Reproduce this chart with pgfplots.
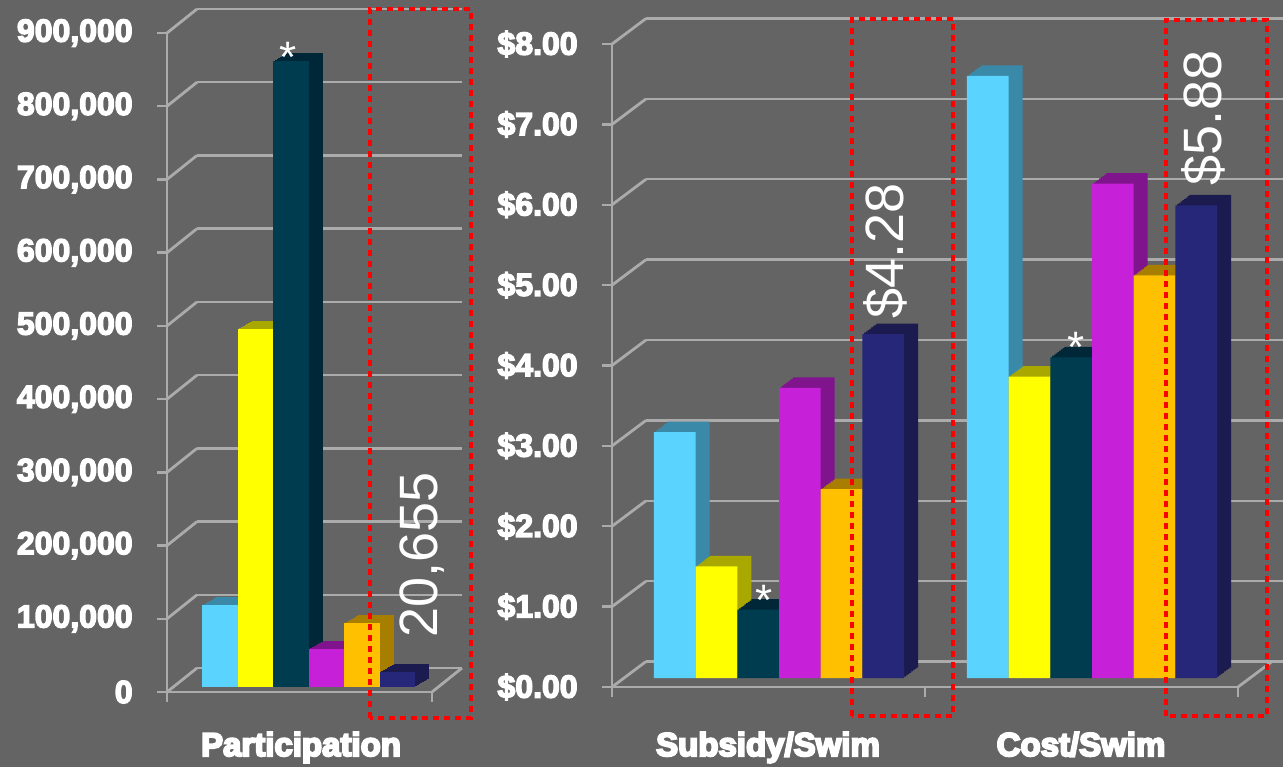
\documentclass[border=0pt]{standalone}
\usepackage{pgfplots}
\pgfplotsset{compat=1.18}
\usepackage{fontspec}
\setmainfont{Liberation Sans}
\newfontfamily\heavyfont{Liberation Sans Bold}
\definecolor{bg}{HTML}{646464}
\definecolor{gridc}{HTML}{ABABAB}
\definecolor{c1}{HTML}{5AD4FF}\definecolor{s1}{HTML}{3B89A8}
\definecolor{c2}{HTML}{FFFF00}\definecolor{s2}{HTML}{A8A800}
\definecolor{c3}{HTML}{003C50}\definecolor{s3}{HTML}{002738}
\definecolor{c4}{HTML}{C620D8}\definecolor{s4}{HTML}{80148C}
\definecolor{c5}{HTML}{FFC000}\definecolor{s5}{HTML}{A87E00}
\definecolor{c6}{HTML}{27277A}\definecolor{s6}{HTML}{1B1B50}
\tikzset{
  prism/.style n args={3}{
    preaction={fill=#1,draw=none,transform canvas={shift={(#2,#3)}}},
    preaction={fill=#1,draw=none,transform canvas={shift={(0.875*#2,0.875*#3)}}},
    preaction={fill=#1,draw=none,transform canvas={shift={(0.75*#2,0.75*#3)}}},
    preaction={fill=#1,draw=none,transform canvas={shift={(0.625*#2,0.625*#3)}}},
    preaction={fill=#1,draw=none,transform canvas={shift={(0.5*#2,0.5*#3)}}},
    preaction={fill=#1,draw=none,transform canvas={shift={(0.375*#2,0.375*#3)}}},
    preaction={fill=#1,draw=none,transform canvas={shift={(0.25*#2,0.25*#3)}}},
    preaction={fill=#1,draw=none,transform canvas={shift={(0.125*#2,0.125*#3)}}}
  },
  wall/.style={draw=gridc, line width=1.4pt},
  heavytext/.style={execute at begin node={\special{pdf:code 2 Tr #1 w}},
                    execute at end node={\special{pdf:code 0 Tr}}},
}
\pgfplotsset{
  barax/.style={hide axis, scale only axis, enlargelimits=false, clip=false, ybar=0pt, anchor=south west},
  backax/.style={scale only axis, enlargelimits=false, anchor=south west, axis line style={draw=none},
    xtick=\empty, yticklabels={}, scaled y ticks=false, yticklabel style={text opacity=0},
    tick style={draw=none}, ymajorgrids, major grid style={draw=gridc, line width=1.2pt}},
  frontax/.style={scale only axis, enlargelimits=false, clip=false, anchor=south west, scaled y ticks=false,
    axis x line*=bottom, axis y line*=left, axis line style={draw=gridc, line width=1.2pt, -},
    xticklabels={}, tick align=outside, major tick length=5pt,
    tick style={draw=gridc, line width=1.2pt},
    yticklabel style={font=\heavyfont\fontsize{16pt}{18pt}\selectfont, text=white, inner sep=0pt, xshift=-12pt, heavytext=0.7}},
}
\begin{document}
\begin{tikzpicture}
\fill[bg] (0,0) rectangle (641.5pt,383.5pt);
% ---------------- left panel ----------------
\begin{axis}[backax, at={(98.5pt,49.5pt)}, width=132.5pt, height=329.5pt,
  xmin=-0.5, xmax=0.5, ymin=0, ymax=900000,
  ytick={0,100000,200000,300000,400000,500000,600000,700000,800000,900000}]
\addplot[draw=none] coordinates {(0,0)};
\end{axis}
\begin{axis}[frontax, at={(83.5pt,37.5pt)}, width=132.5pt, height=329.5pt,
  xmin=-0.5, xmax=0.5, ymin=0, ymax=900000, xtick={-0.5,0.5},
  ytick={0,100000,200000,300000,400000,500000,600000,700000,800000,900000},
  yticklabels={0,{100,000},{200,000},{300,000},{400,000},{500,000},{600,000},{700,000},{800,000},{900,000}}]
\addplot[draw=none] coordinates {(0,0)};
\pgfplotsinvokeforeach{0,100000,200000,300000,400000,500000,600000,700000,800000,900000}{
  \draw[wall] (axis cs:-0.5,#1) -- ++(15pt,12pt);
}
\draw[wall] (axis cs:0.5,0) -- ++(15pt,12pt);
\end{axis}
\begin{axis}[barax, at={(88pt,40pt)}, width=132.5pt, height=329.5pt,
  xmin=-0.5, xmax=0.5, ymin=0, ymax=900000, bar width=17.75pt]
\addplot[fill=c1, draw=none, prism={s1}{7pt}{4pt}] coordinates {(0,112000)};
\addplot[fill=c2, draw=none, prism={s2}{7pt}{4pt}] coordinates {(0,489000)};
\addplot[fill=c3, draw=none, prism={s3}{7pt}{4pt}] coordinates {(0,855000)};
\addplot[fill=c4, draw=none, prism={s4}{7pt}{4pt}] coordinates {(0,52000)};
\addplot[fill=c5, draw=none, prism={s5}{7pt}{4pt}] coordinates {(0,87000)};
\addplot[fill=c6, draw=none, prism={s6}{7pt}{4pt}] coordinates {(0,20655)};
\end{axis}
% ---------------- right panel ----------------
\begin{axis}[backax, at={(323pt,52.75pt)}, width=318.5pt, height=321.5pt,
  xmin=0, xmax=1, ymin=0, ymax=8, ytick={0,1,2,3,4,5,6,7,8}]
\addplot[draw=none] coordinates {(0,0)};
\end{axis}
\begin{axis}[frontax, at={(306pt,40pt)}, width=313pt, height=321.5pt,
  xmin=-0.5, xmax=1.5, ymin=0, ymax=8, xtick={-0.5,0.5,1.5},
  ytick={0,1,2,3,4,5,6,7,8},
  yticklabels={\$0.00,\$1.00,\$2.00,\$3.00,\$4.00,\$5.00,\$6.00,\$7.00,\$8.00}]
\addplot[draw=none] coordinates {(0,0)};
\pgfplotsinvokeforeach{0,1,2,3,4,5,6,7,8}{
  \draw[wall] (axis cs:-0.5,#1) -- ++(17pt,12.75pt);
}
\draw[wall] (axis cs:1.5,0) -- ++(17pt,12.75pt);
\end{axis}
\begin{axis}[barax, at={(311.25pt,44.5pt)}, width=313pt, height=321.5pt,
  xmin=-0.5, xmax=1.5, ymin=0, ymax=8, bar width=20.85pt]
\addplot[fill=c1, draw=none, prism={s1}{7pt}{5.25pt}] coordinates {(0,3.06) (1,7.49)};
\addplot[fill=c2, draw=none, prism={s2}{7pt}{5.25pt}] coordinates {(0,1.39) (1,3.75)};
\addplot[fill=c3, draw=none, prism={s3}{7pt}{5.25pt}] coordinates {(0,0.85) (1,3.99)};
\addplot[fill=c4, draw=none, prism={s4}{7pt}{5.25pt}] coordinates {(0,3.61) (1,6.15)};
\addplot[fill=c5, draw=none, prism={s5}{7pt}{5.25pt}] coordinates {(0,2.35) (1,5.01)};
\addplot[fill=c6, draw=none, prism={s6}{7pt}{5.25pt}] coordinates {(0,4.28) (1,5.88)};
\end{axis}
% ---------------- annotations ----------------
\begin{scope}[every node/.style={inner sep=0pt, text=white}]
\node[anchor=base, heavytext=1.0, font=\heavyfont\fontsize{16.5pt}{18pt}\selectfont] at (150.5pt,5.5pt) {Participation};
\node[anchor=base, heavytext=1.0, font=\heavyfont\fontsize{16.5pt}{18pt}\selectfont] at (384pt,5.5pt) {Subsidy/Swim};
\node[anchor=base, heavytext=1.0, font=\heavyfont\fontsize{16.5pt}{18pt}\selectfont] at (540.5pt,5.5pt) {Cost/Swim};
\node[rotate=90, font=\fontsize{27pt}{30pt}\selectfont] at (211pt,106pt) {20,655};
\node[rotate=90, font=\fontsize{27pt}{30pt}\selectfont] at (442.5pt,258pt) {\$4.28};
\node[rotate=90, font=\fontsize{27pt}{30pt}\selectfont] at (601.5pt,324.5pt) {\$5.88};
\node[anchor=base, font=\fontsize{22pt}{24pt}\selectfont] at (144pt,347pt) {*};
\node[anchor=base, font=\fontsize{22pt}{24pt}\selectfont] at (382pt,76pt) {*};
\node[anchor=base, font=\fontsize{22pt}{24pt}\selectfont] at (538pt,202.5pt) {*};
\end{scope}
\begin{scope}[draw=red, line width=2pt, dash pattern=on 3pt off 2.5pt]
\draw (185pt,24.5pt) rectangle (235.5pt,379pt);
\draw (426pt,25.5pt) rectangle (476.5pt,374pt);
\draw (583pt,25.5pt) rectangle (633.5pt,373.5pt);
\end{scope}
\pgfresetboundingbox
\useasboundingbox (0,0) rectangle (641.5pt,383.5pt);
\end{tikzpicture}
\end{document}
